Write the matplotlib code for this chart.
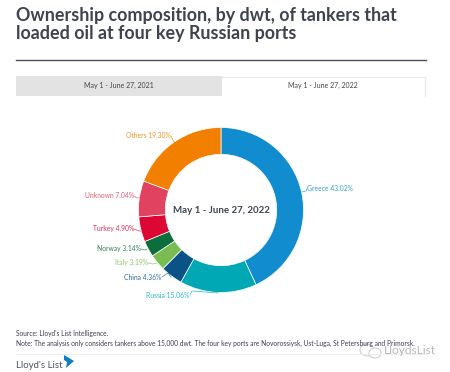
import matplotlib
matplotlib.use('Agg')
import matplotlib.pyplot as plt
from matplotlib.patches import Rectangle, Ellipse

plt.rcParams['font.family'] = ['Lato', 'DejaVu Sans']

owners = ['Greece', 'Russia', 'China', 'Italy', 'Norway', 'Turkey', 'Unknown', 'Others']
shares = [43.02, 15.06, 4.36, 3.19, 3.14, 4.90, 7.04, 19.30]
colors = ['#118dcf', '#00a8b5', '#0b5286', '#79bd52', '#0b6e3c', '#dc0735', '#e0425f', '#f27f00']
tabs = ['May 1 - June 27, 2021', 'May 1 - June 27, 2022']
center_label = 'May 1 - June 27, 2022'

W, H = 450, 372
fig = plt.figure(figsize=(W / 100, H / 100), dpi=100)

    #overlay in pixel coords for the page furniture
bg = fig.add_axes([0, 0, 1, 1])
bg.set_xlim(0, W)
bg.set_ylim(H, 0)
bg.axis('off')

bg.text(16, 15, 'Ownership composition, by dwt, of tankers that', fontsize=12.9, fontweight='bold',
        color='#3d4450', va='center')
bg.text(16, 34, 'loaded oil at four key Russian ports', fontsize=12.9, fontweight='bold',
        color='#3d4450', va='center')
bg.plot([16, 426], [59.5, 59.5], color='#4a505c', lw=1)

    #tabs
bg.add_patch(Rectangle((16, 76), 206, 20, color='#e3e3e3', lw=0))
bg.plot([222, 425, 425], [77, 77, 96], color='#e8e8e8', lw=0.8)
bg.text(119, 85.5, tabs[0], fontsize=5.0, color='#444444', ha='center', va='center')
bg.text(323, 85.5, tabs[1], fontsize=5.0, color='#444444', ha='center', va='center')

    #donut
cx, cy, r = 221, 210, 82.5
ax = fig.add_axes([(cx - r) / W, 1 - (cy + r) / H, 2 * r / W, 2 * r / H])
ax.pie(shares, colors=colors, startangle=90, counterclock=False, radius=1,
       wedgeprops={'width': 0.325, 'edgecolor': '#ffffff', 'linewidth': 0.5})
ax.set_xlim(-1, 1)
ax.set_ylim(-1, 1)
bg.text(cx, 210.5, center_label, fontsize=7.0, fontweight='bold', color='#3d4450', ha='center', va='center')

    #labels with their leader lines: text anchor, line points
label_spots = {
    'Greece': (307, 188.5, 'left', [(302, 192), (306, 191), (307, 189)]),
    'Russia': (189, 295, 'right', [(190, 295), (192, 291), (218, 293)]),
    'China': (161, 277, 'right', [(162, 277), (168, 273), (171, 277)]),
    'Italy': (148, 263, 'right', [(148, 263), (153, 264), (157, 263)]),
    'Norway': (141, 249, 'right', [(141, 249), (145, 250), (147, 249)]),
    'Turkey': (134, 228.5, 'right', [(134, 229), (139, 231), (141, 231)]),
    'Unknown': (134, 195.5, 'right', [(134, 196), (137, 198), (140, 198)]),
    'Others': (171, 135.5, 'right', [(171, 136), (174, 142), (176, 143)]),
}
for name, share, color in zip(owners, shares, colors):
    x, y, ha, line = label_spots[name]
    bg.text(x, y, f'{name} {share:.2f}%', fontsize=4.9, color=color, ha=ha, va='center', alpha=0.85)
    bg.plot([p[0] for p in line], [p[1] for p in line], color=color, lw=0.5, alpha=0.8)
bg.set_zorder(2)
bg.patch.set_alpha(0)

    #footer
bg.text(16, 333.5, "Source: Lloyd's List Intelligence.", fontsize=4.8, color='#3a3f4a', va='center')
bg.text(16, 343.5, 'Note: The analysis only considers tankers above 15,000 dwt. The four key ports are '
        'Novorossiysk, Ust-Luga, St Petersburg and Primorsk.', fontsize=4.75, color='#3a3f4a', va='center')
bg.plot([16, 426], [354, 354], color='#eeeeee', lw=0.8)
bg.text(16, 365, "Lloyd's List", fontsize=6.9, color='#4a505c', va='center')
bg.fill([64, 74, 66, 67, 64], [355, 361, 368, 362, 360], color='#0f7cc0', lw=0)

    #wechat watermark
bg.add_patch(Ellipse((367, 350), 14, 12, fc='#ffffff', ec='#c4c4c4', lw=0.7, alpha=0.9))
bg.add_patch(Ellipse((375, 353), 12, 10, fc='#ffffff', ec='#c4c4c4', lw=0.7, alpha=0.9))
bg.text(384, 351, 'LloydsList', fontsize=8.6, color='#b8b8b8', va='center')

plt.savefig('out.png', dpi=100)
